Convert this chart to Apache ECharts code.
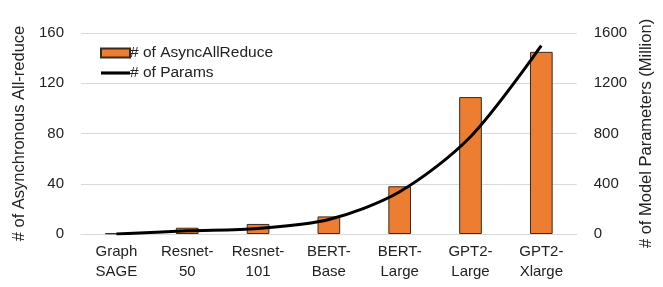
<!DOCTYPE html>
<html>
<head>
<meta charset="utf-8">
<script src="https://cdn.jsdelivr.net/npm/echarts@6/dist/echarts.min.js"></script>
<style>
  html, body { margin: 0; padding: 0; background: #fff; }
  #chart { width: 663px; height: 287px; }
</style>
</head>
<body>
<div id="chart"></div>
<script>
const categories = ['Graph\nSAGE', 'Resnet-\n50', 'Resnet-\n101', 'BERT-\nBase', 'BERT-\nLarge', 'GPT2-\nLarge', 'GPT2-\nXlarge'];
const asyncAllReduce = [0.5, 5, 8, 14, 38, 109, 145];
const paramsMillion = [0, 25, 44, 115, 336, 774, 1500];
const leftTicks = [0, 40, 80, 120, 160];
const rightTicks = [0, 400, 800, 1200, 1600];

const font = 'Liberation Sans, Arial, sans-serif';

var chart = echarts.init(document.getElementById('chart'));
const option = {
  animation: false,
  grid: { left: 81, right: 80, top: 33, bottom: 53 },
  legend: {
    left: 100, top: 45, padding: 0,
    orient: 'vertical',
    itemGap: 4,
    itemWidth: 29, itemHeight: 9,
    textStyle: { fontFamily: font, fontSize: 15.5, color: '#222', padding: [0, 0, 0, -5] },
    data: [
      { name: '# of AsyncAllReduce', icon: 'rect' },
      { name: '# of Params', icon: 'path://M0,0 L28,0 L28,3 L0,3 Z' }
    ]
  },
  xAxis: {
    type: 'category',
    data: categories,
    axisLine: { show: true, lineStyle: { color: '#d9d9d9' } },
    axisTick: { show: false },
    axisLabel: { fontFamily: font, fontSize: 15, color: '#222', lineHeight: 20, margin: 8 }
  },
  yAxis: [
    {
      type: 'value', min: leftTicks[0], max: leftTicks[leftTicks.length - 1], interval: 40,
      name: '# of Asynchronous All-reduce',
      nameLocation: 'middle', nameGap: 52,
      nameTextStyle: { fontFamily: font, fontSize: 16.5, color: '#222' },
      axisLabel: { fontFamily: font, fontSize: 15, color: '#222', margin: 17 },
      splitLine: { lineStyle: { color: '#d9d9d9' } }
    },
    {
      type: 'value', min: rightTicks[0], max: rightTicks[rightTicks.length - 1], interval: 400,
      name: '# of Model Parameters (Million)',
      nameLocation: 'middle', nameGap: 58, nameRotate: 90,
      nameTextStyle: { fontFamily: font, fontSize: 16.5, color: '#222' },
      axisLabel: { fontFamily: font, fontSize: 15, color: '#222', margin: 17, formatter: v => String(v) },
      splitLine: { show: false }
    }
  ],
  series: [
    {
      name: '# of AsyncAllReduce',
      type: 'bar',
      data: asyncAllReduce,
      barWidth: '32%',
      itemStyle: { color: '#ED7D31', borderColor: '#3a2a20', borderWidth: 1 }
    },
    {
      name: '# of Params',
      type: 'line',
      yAxisIndex: 1,
      data: paramsMillion,
      smooth: 0.3,
      symbol: 'none',
      lineStyle: { color: '#000', width: 3 },
      itemStyle: { color: '#000' }
    }
  ]
};
chart.setOption(option);
</script>
</body>
</html>
